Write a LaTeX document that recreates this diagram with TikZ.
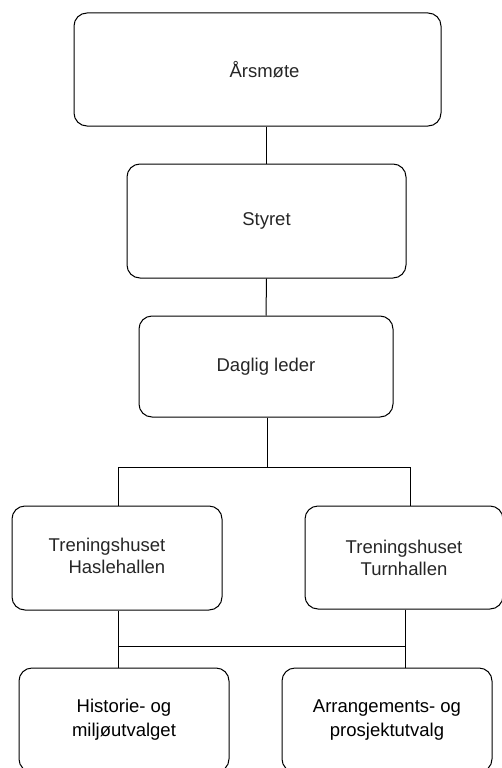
\documentclass[tikz,border=0pt]{standalone}
\usepackage{fontspec}
\setmainfont{Liberation Sans}
\usepackage{tikz}
\usetikzlibrary{positioning}

\begin{document}
\begin{tikzpicture}[x=1pt, y=-1pt, line width=1pt,
                    every node/.style = {draw, rounded corners=13pt,
                                         text=black!85, font=\fontsize{18.5}{22}\selectfont, align=center}]
                \clip (0,0) rectangle (502,768);
                \node (aars) [minimum width=367pt, minimum height=113pt] at (257.5,69.5) {\hspace{14pt}Årsmøte};
                \node (styr) [minimum width=279pt, minimum height=114pt] at (266.5,221) {Styret};
                \node (led)  [minimum width=254pt, minimum height=101pt] at (266,366.5) {Daglig leder};
                \node (hasl) [minimum width=210pt, minimum height=104pt, align=right] at (117,558)
                     {\raisebox{16pt}{\begin{tabular}{@{}r@{}}Treningshuset\\Haslehallen\end{tabular}}\hspace{20pt}};
                \node (turn) [minimum width=198pt, minimum height=103pt] at (404,557.5) {Treningshuset\\Turnhallen};
                \node (hist) [minimum width=210pt, minimum height=104pt, text=black,
                              font=\fontsize{18.5}{24}\selectfont] at (124,720) {Historie- og\\miljøutvalget};
                \node (arr)  [minimum width=210pt, minimum height=104pt, text=black,
                              font=\fontsize{18.5}{24}\selectfont] at (387,720) {Arrangements- og\\prosjektutvalg};
                \coordinate (jt) at (267,467);
                \coordinate (jl) at (118,467);
                \coordinate (jr) at (410,467);
                \coordinate (bl) at (118,646);
                \coordinate (br) at (405,646);
                \draw (aars.south -| styr.north) -- (styr.north);
                \draw (styr.south) -- (led.north);
                \draw (led.south -| jt) -- (jt);
                \draw (jl) -- (jr);
                \draw (jl) -- (jl |- hasl.north);
                \draw (jr) -- (jr |- turn.north);
                \draw (bl |- hasl.south) -- (bl |- hist.north);
                \draw (bl) -- (br);
                \draw (br |- turn.south) -- (br |- arr.north);
            \end{tikzpicture}
\end{document}
